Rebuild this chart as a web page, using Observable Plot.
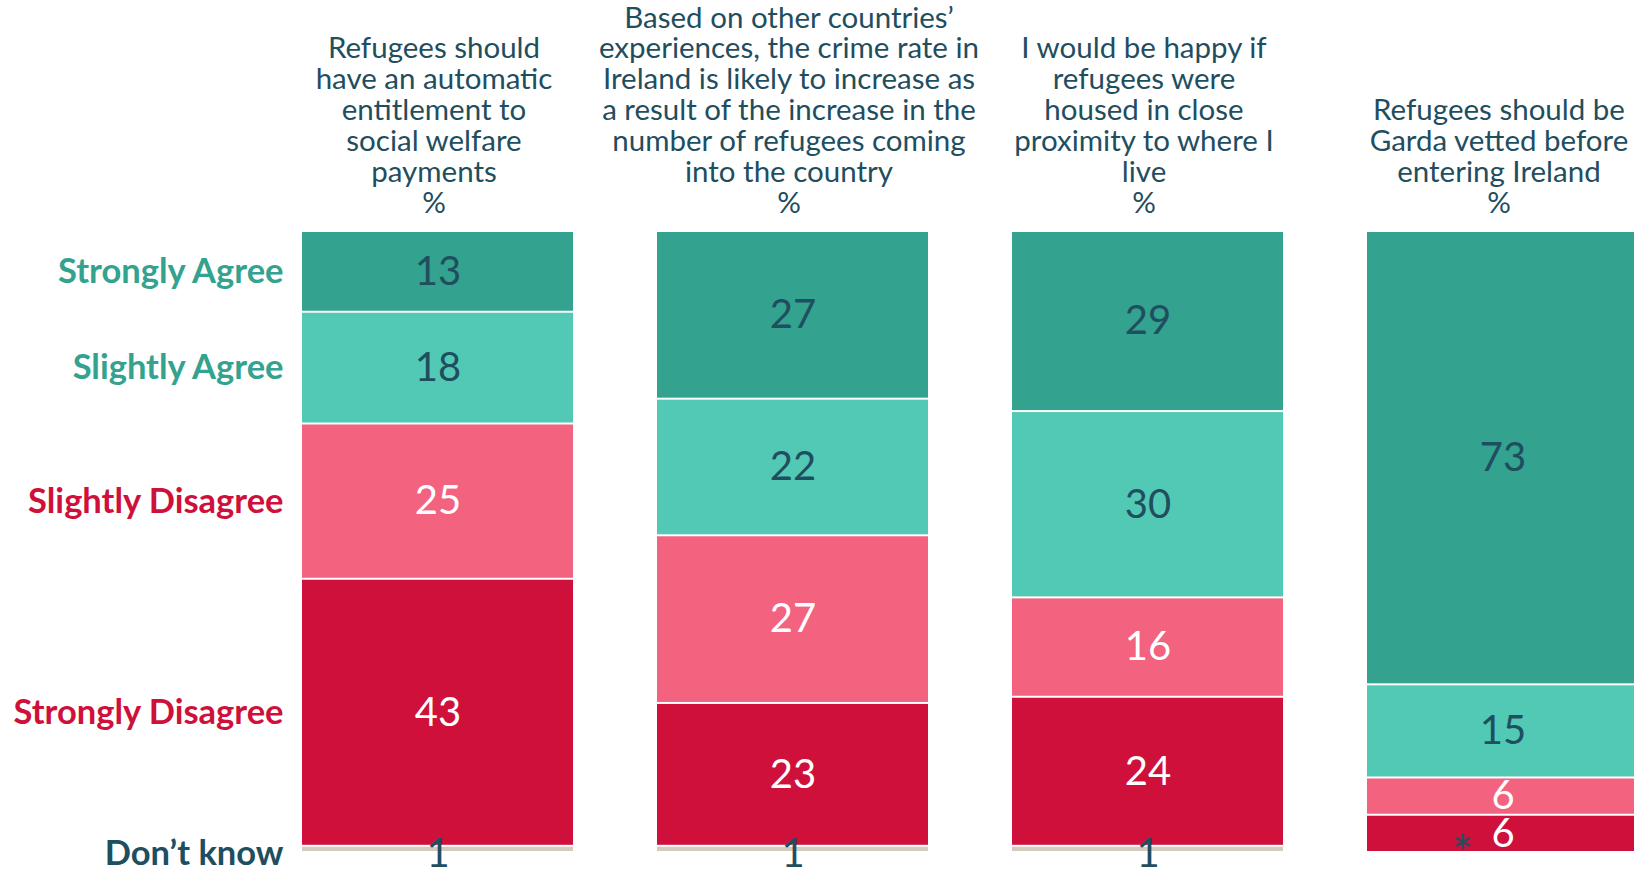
<!DOCTYPE html>
<html>
<head>
<meta charset="utf-8">
<script src="https://cdn.jsdelivr.net/npm/d3@7"></script>
<script src="https://cdn.jsdelivr.net/npm/@observablehq/plot@0.6"></script>
<style>
  html, body { margin: 0; padding: 0; background: #ffffff; }
  #chart svg { display: block; font-family: Lato, "Open Sans", sans-serif; }
</style>
</head>
<body>
<div id="chart"></div>
<script>
// ---- Data ----
const questions = [
  "Refugees should\nhave an automatic\nentitlement to\nsocial welfare\npayments\n%",
  "Based on other countries’\nexperiences, the crime rate in\nIreland is likely to increase as\na result of the increase in the\nnumber of refugees coming\ninto the country\n%",
  "I would be happy if\nrefugees were\nhoused in close\nproximity to where I\nlive\n%",
  "Refugees should be\nGarda vetted before\nentering Ireland\n%"
];
const categories = ["Strongly Agree", "Slightly Agree", "Slightly Disagree", "Strongly Disagree", "Don’t know"];
const stronglyAgree     = [13, 27, 29, 73];
const slightlyAgree     = [18, 22, 30, 15];
const slightlyDisagree  = [25, 27, 16, 6];
const stronglyDisagree  = [43, 23, 24, 6];
const dontKnow          = [1, 1, 1, 0];
const dontKnowLabels    = ["1", "1", "1", "*"];

const colors = ["#33a28f", "#52c9b5", "#f3627f", "#cf103b", "#d3cbbe"];
const labelColors = ["#33a28f", "#33a28f", "#cf103b", "#cf103b", "#1f4e5f"];
const dark = "#1f4e5f";

// ---- Table built from the arrays ----
const series = [stronglyAgree, slightlyAgree, slightlyDisagree, stronglyDisagree, dontKnow];
const rows = [];
questions.forEach((q, qi) => {
  let acc = 0;
  series.forEach((s, ci) => {
    const v = s[qi];
    rows.push({q, qi, cat: categories[ci], ci, v, y1: acc, y2: acc + v, mid: acc + v / 2,
               label: ci === 4 ? dontKnowLabels[qi] : String(v)});
    acc += v;
  });
});
const firstBar = rows.filter(d => d.qi === 0);

const chart = Plot.plot({
  width: 1634,
  height: 869,
  marginTop: 231,
  marginBottom: 17,
  marginLeft: 302,
  marginRight: -4,
  x: {type: "band", domain: questions, paddingInner: 0.237, paddingOuter: 0, axis: null},
  y: {domain: [0, 100], reverse: true, axis: null},
  color: {domain: categories, range: colors},
  marks: [
    Plot.barY(rows.filter(d => d.v > 0), {
      x: "q", y1: "y1", y2: "y2", fill: "cat",
      insetTop: 1, insetBottom: 1
    }),
    // values on agree segments (dark text)
    Plot.text(rows.filter(d => d.ci < 2), {
      x: "q", y: "mid", text: "label", fill: dark, fontSize: 40, fontWeight: 400
    }),
    // values on disagree segments (white text)
    Plot.text(rows.filter(d => d.ci >= 2 && d.ci < 4), {
      x: "q", y: "mid", text: "label", fill: "white", fontSize: 40, fontWeight: 400
    }),
    // don't know values below bars
    Plot.text(rows.filter(d => d.ci === 4 && d.v > 0), {
      x: "q", y: "y2", text: "label", fill: dark, fontSize: 40, dy: 2
    }),
    Plot.text(rows.filter(d => d.ci === 4 && d.v === 0), {
      x: "q", y: "y2", text: "label", fill: dark, fontSize: 50, dx: -40, dy: 3
    }),
    // question headers
    Plot.text(questions, {
      x: d => d, text: d => d, frameAnchor: "top", lineAnchor: "bottom",
      dy: -19, dx: -4, fontSize: 29.5, lineHeight: 1.045, fill: dark
    }),
    // category labels on the left
    Plot.text(firstBar.filter(d => d.ci < 4), {
      y: "mid", text: "cat", frameAnchor: "left", textAnchor: "end", dx: -19,
      fontSize: 34.5, fontWeight: 700, fill: d => labelColors[d.ci]
    }),
    Plot.text(firstBar.filter(d => d.ci === 4), {
      y: "mid", text: "cat", frameAnchor: "left", textAnchor: "end", dx: -19, dy: 5,
      fontSize: 34.5, fontWeight: 700, fill: d => labelColors[d.ci]
    })
  ]
});
document.getElementById("chart").appendChild(chart);
</script>
</body>
</html>
